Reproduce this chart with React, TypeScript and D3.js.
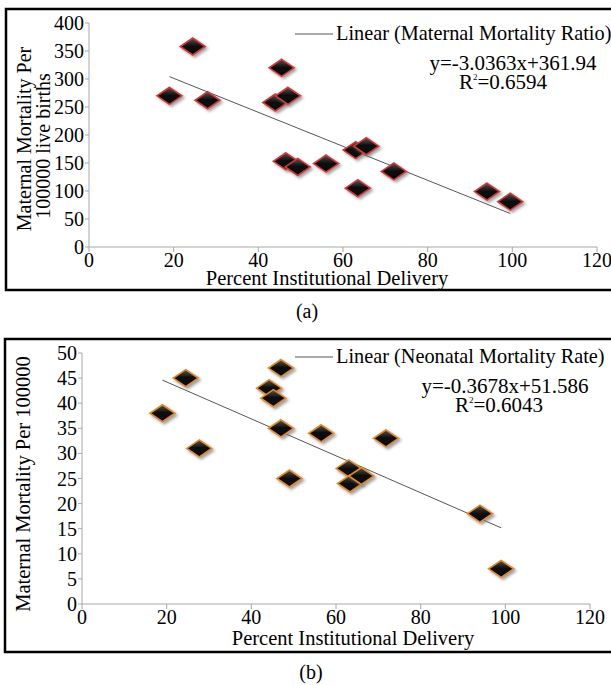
import React from 'react'
import { scaleLinear } from 'd3'

// Percent institutional delivery (x) shared across both panels, read per panel
const deliveryA = [19, 24.5, 28, 45.5, 44, 47, 46.5, 49.3, 56, 63, 65.5, 63.5, 72, 94, 99.5]
const maternalRatio = [270, 358, 262, 320, 258, 270, 153, 143, 149, 173, 180, 105, 135, 99, 81]

const deliveryB = [19, 24.5, 27.7, 44.2, 45.2, 47, 47, 49, 56.5, 71.8, 63, 63.3, 66, 94, 99]
const neonatalRate = [38, 45, 31, 43, 41, 47, 35, 25, 34, 33, 27, 24, 25.5, 18, 7]

const xTicks = [0, 20, 40, 60, 80, 100, 120]
const yTicksA = [0, 50, 100, 150, 200, 250, 300, 350, 400]
const yTicksB = [0, 5, 10, 15, 20, 25, 30, 35, 40, 45, 50]

const trendA = { slope: -3.0363, intercept: 361.94, r2: '0.6594', eq: 'y=-3.0363x+361.94' }
const trendB = { slope: -0.3678, intercept: 51.586, r2: '0.6043', eq: 'y=-0.3678x+51.586' }

const FONT = "'Liberation Serif', 'Times New Roman', serif"

const Diamond = ({ cx, cy, stroke, grad }) => (
  <path
    d={`M${cx},${cy - 8.5} L${cx + 12.5},${cy} L${cx},${cy + 8.5} L${cx - 12.5},${cy} Z`}
    fill={`url(#${grad})`}
    stroke={stroke}
    strokeWidth={1.6}
    filter="url(#shadow)"
  />
)

const Panel = ({ box, x, y, xs, ys, yTicks, trend, stroke, grad, legend, yTitle, xTitleX, xTitleY, legendY, eqX, r2X }) => {
  const x0 = x.range()[0]
  const y0 = y.range()[0]
  const xMin = Math.min(...xs)
  const xMax = Math.max(...xs)
  return (
    <g>
      <rect x={box[0]} y={box[1]} width={box[2]} height={box[3]} fill="#fff" stroke="#000" strokeWidth={2.5} />
      {/* axes */}
      <line x1={x0} x2={x0} y1={y0} y2={y.range()[1]} stroke="#a8a8a8" />
      <line x1={x0} x2={x.range()[1]} y1={y0} y2={y0} stroke="#a8a8a8" />
      {yTicks.map((t) => (
        <g key={'y' + t}>
          <line x1={x0 - 4} x2={x0} y1={y(t)} y2={y(t)} stroke="#a8a8a8" />
          <text x={x0 - 5} y={y(t)} dy="0.35em" textAnchor="end" fontSize={20}>{t}</text>
        </g>
      ))}
      {xTicks.map((t) => (
        <g key={'x' + t}>
          <line x1={x(t)} x2={x(t)} y1={y0} y2={y0 + 5} stroke="#a8a8a8" />
          <text x={x(t)} y={y0 + 20} textAnchor="middle" fontSize={20}>{t}</text>
        </g>
      ))}
      <text x={xTitleX} y={xTitleY} textAnchor="middle" fontSize={20.5}>Percent Institutional Delivery</text>
      {yTitle}
      {/* trend line */}
      <line
        x1={x(xMin)} y1={y(trend.slope * xMin + trend.intercept)}
        x2={x(xMax)} y2={y(trend.slope * xMax + trend.intercept)}
        stroke="#555" strokeWidth={1}
      />
      {xs.map((d, i) => (
        <Diamond key={i} cx={x(d)} cy={y(ys[i])} stroke={stroke} grad={grad} />
      ))}
      {/* legend */}
      <line x1={295} x2={333} y1={legendY - 6} y2={legendY - 6} stroke="#555" />
      <text x={336} y={legendY} fontSize={20.3}>{legend}</text>
      <text x={eqX} y={legendY + 30} textAnchor="middle" fontSize={21}>{trend.eq}</text>
      <text x={r2X} y={legendY + 49} textAnchor="middle" fontSize={21}>
        R<tspan fontSize={9} dy={-9}>2</tspan><tspan dy={9}>={trend.r2}</tspan>
      </text>
    </g>
  )
}

const App = () => {
  const width = 611
  const height = 685

  const xA = scaleLinear().domain([0, 120]).range([89, 597])
  const yA = scaleLinear().domain([0, 400]).range([247, 23])
  const xB = scaleLinear().domain([0, 120]).range([82, 590])
  const yB = scaleLinear().domain([0, 50]).range([604, 353])

  return (
    <svg width={width} height={height} style={{ position: 'absolute', left: 0, top: 0, fontFamily: FONT }}>
      <defs>
        <linearGradient id="gA" x1="0" y1="0" x2="0" y2="1">
          <stop offset="0%" stopColor="#555" />
          <stop offset="45%" stopColor="#111" />
          <stop offset="100%" stopColor="#000" />
        </linearGradient>
        <linearGradient id="gB" x1="0" y1="0" x2="0" y2="1">
          <stop offset="0%" stopColor="#555" />
          <stop offset="45%" stopColor="#111" />
          <stop offset="100%" stopColor="#000" />
        </linearGradient>
        <filter id="shadow" x="-50%" y="-50%" width="200%" height="200%">
          <feDropShadow dx={2} dy={2} stdDeviation={1.5} floodColor="#777" floodOpacity={0.7} />
        </filter>
      </defs>
      <rect width={width} height={height} fill="#fff" />

      <Panel
        box={[6, 9, 612, 281]}
        x={xA} y={yA} xs={deliveryA} ys={maternalRatio} yTicks={yTicksA}
        trend={trendA} stroke="#d23a3a" grad="gA"
        legend="Linear (Maternal Mortality Ratio)"
        legendY={40} eqX={513} r2X={503}
        xTitleX={327} xTitleY={285}
        yTitle={
          <g>
            <text transform="translate(31,139) rotate(-90)" textAnchor="middle" fontSize={20}>Maternal Mortality Per</text>
            <text transform="translate(50,146) rotate(-90)" textAnchor="middle" fontSize={20}>100000 live births</text>
          </g>
        }
      />
      <text x={307} y={318} textAnchor="middle" fontSize={20}>(a)</text>

      <Panel
        box={[5, 339, 612, 313]}
        x={xB} y={yB} xs={deliveryB} ys={neonatalRate} yTicks={yTicksB}
        trend={trendB} stroke="#e08a2a" grad="gB"
        legend="Linear (Neonatal Mortality Rate)"
        legendY={363} eqX={505} r2X={499}
        xTitleX={353} xTitleY={645}
        yTitle={
          <text transform="translate(30,484) rotate(-90)" textAnchor="middle" fontSize={20.5}>Maternal Mortality Per 100000</text>
        }
      />
      <text x={311} y={679} textAnchor="middle" fontSize={20}>(b)</text>
    </svg>
  )
}

export default App
